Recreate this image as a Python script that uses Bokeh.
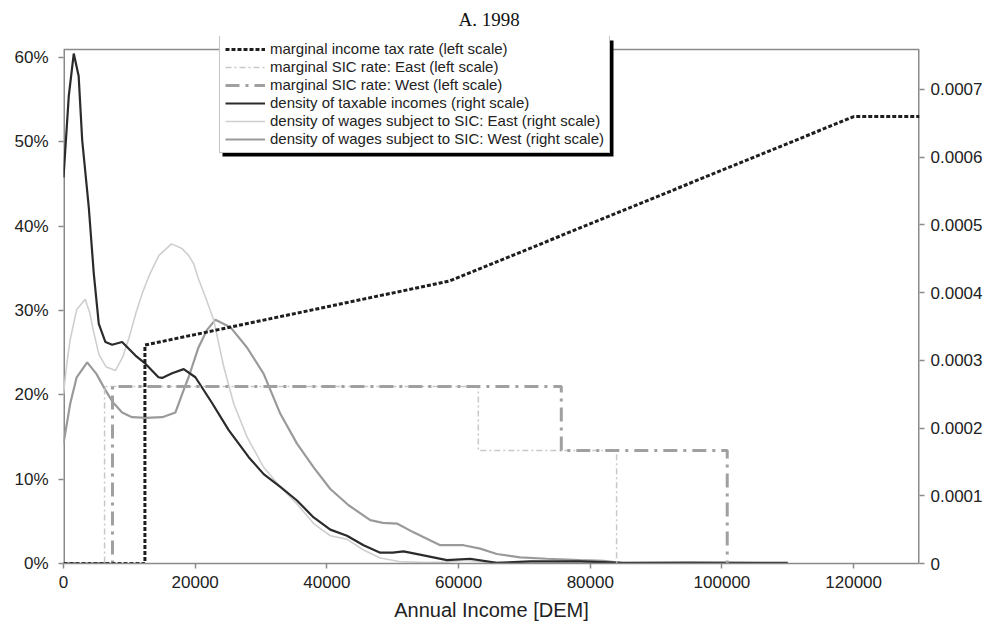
import numpy as np
from bokeh.plotting import figure
from bokeh.models import (Range1d, LinearAxis, FixedTicker, NumeralTickFormatter,
                          CustomJSTickFormatter, Legend, LegendItem, BoxAnnotation)
from bokeh.embed import file_html
from bokeh.resources import INLINE

FONT = "Liberation Sans"

title_text = "A.  1998"
x_label = "Annual Income [DEM]"
x_ticks = [0, 20000, 40000, 60000, 80000, 100000, 120000]
left_ticks = [0, 0.1, 0.2, 0.3, 0.4, 0.5, 0.6]
right_ticks = [0, 0.0001, 0.0002, 0.0003, 0.0004, 0.0005, 0.0006, 0.0007]

# marginal income tax rate (left scale)
tax_x = [0, 12365, 12365, 58643, 120041, 130000]
tax_y = [0, 0, 0.259, 0.335, 0.53, 0.53]

# marginal SIC rates (left scale)
sic_east_x = [0, 6240, 6240, 63000, 63000, 84000, 84000]
sic_east_y = [0, 0, 0.21, 0.21, 0.134, 0.134, 0]
sic_west_x = [0, 7440, 7440, 75600, 75600, 100800, 100800]
sic_west_y = [0, 0, 0.21, 0.21, 0.134, 0.134, 0]

# densities (right scale), values in units of 1e-4
dens_tax_x = [0, 800, 1560, 2300, 2840, 3840, 4600, 5360, 6370, 7390, 8900, 10930,
              12440, 14420, 14970, 16490, 18260, 20030, 22560, 25090, 28130, 30400,
              32930, 35460, 37990, 40520, 43050, 45570, 48100, 50000, 51640, 54680,
              58220, 61760, 65810, 70870, 78450, 85000, 95000, 110000]
dens_tax_v = [5.70, 6.9, 7.53, 7.2, 6.25, 5.26, 4.28, 3.54, 3.27, 3.23, 3.27, 3.07,
              2.95, 2.75, 2.74, 2.81, 2.87, 2.75, 2.37, 1.97, 1.57, 1.32,
              1.13, 0.93, 0.68, 0.50, 0.41, 0.27, 0.16, 0.16, 0.18, 0.12,
              0.05, 0.07, 0.01, 0.03, 0.03, 0.01, 0.015, 0.01]

dens_east_x = [0, 500, 1000, 2000, 3300, 4000, 4500, 5400, 6500, 7900, 9000, 10000,
               11000, 12000, 13000, 14500, 16400, 18000, 19000, 19800, 20500, 21500,
               22800, 24300, 25850, 27870, 30400, 32930, 35460, 37990, 40520, 43000,
               45570, 48100, 51000, 55000, 58000, 61000, 64000, 70000, 78000, 85000]
dens_east_v = [2.5, 2.95, 3.3, 3.75, 3.9, 3.7, 3.45, 3.08, 2.9, 2.85, 3.05, 3.35,
               3.7, 4.0, 4.25, 4.55, 4.72, 4.65, 4.55, 4.42, 4.2, 3.95,
               3.6, 2.92, 2.36, 1.87, 1.42, 1.13, 0.88, 0.59, 0.41, 0.36,
               0.2, 0.08, 0.03, 0.015, 0.02, 0.05, 0.02, 0.01, 0.01, 0.0]

dens_west_x = [0, 1000, 2000, 3600, 5000, 6370, 7500, 8900, 10400, 12500, 15000, 17000,
               18200, 19000, 20500, 21800, 23070, 25340, 27870, 30400, 32930, 35460,
               37990, 40520, 43300, 46590, 48500, 50640, 53160, 57210, 60750, 63280,
               65810, 69350, 73400, 78450, 82000, 85600]
dens_west_v = [1.77, 2.35, 2.75, 2.97, 2.8, 2.56, 2.38, 2.23, 2.16, 2.15, 2.16, 2.23,
               2.55, 2.75, 3.19, 3.45, 3.6, 3.49, 3.19, 2.8, 2.21, 1.77,
               1.42, 1.1, 0.86, 0.64, 0.6, 0.59, 0.46, 0.27, 0.27, 0.22,
               0.14, 0.09, 0.07, 0.05, 0.04, 0.0]

legend_labels = [
    "marginal income tax rate (left scale)",
    "marginal SIC rate: East (left scale)",
    "marginal SIC rate: West (left scale)",
    "density of taxable incomes (right scale)",
    "density of wages subject to SIC: East (right scale)",
    "density of wages subject to SIC: West (right scale)",
]

unit = 1e-4
dens_tax_y = list(np.array(dens_tax_v) * unit)
dens_east_y = list(np.array(dens_east_v) * unit)
dens_west_y = list(np.array(dens_west_v) * unit)

# plot box (data) tops; the frame extends a little higher so the legend fits
X_MAX = 130000
LEFT_TOP = 0.6095
RIGHT_TOP = 0.000759
EXTRA = 527.0 / 514.0

p = figure(width=985, height=630, output_backend="svg", toolbar_location=None,
           x_range=Range1d(0, X_MAX), y_range=Range1d(0, LEFT_TOP * EXTRA),
           min_border_left=63, min_border_right=66, min_border_top=36,
           min_border_bottom=67)
p.extra_y_ranges = {"dens": Range1d(0, RIGHT_TOP * EXTRA)}

p.title.text = title_text
p.title.align = "center"
p.title.text_font = "Liberation Serif"
p.title.text_font_size = "19px"
p.title.text_font_style = "normal"
p.title.text_color = "#111111"
p.title.standoff = 13

p.xgrid.visible = False
p.ygrid.visible = False
p.outline_line_color = None
p.background_fill_color = "white"
p.border_fill_color = "white"

AX = "#8a8a8a"
def style_axis(ax):
    ax.axis_line_color = None
    ax.major_tick_line_color = AX
    ax.major_tick_line_width = 1.5
    ax.major_tick_out = 5
    ax.major_tick_in = 0
    ax.minor_tick_line_color = None
    ax.major_label_text_font = FONT
    ax.major_label_text_font_size = "17px"
    ax.major_label_text_color = "#222222"

xa = p.xaxis[0]
style_axis(xa)
xa.axis_line_color = AX
xa.axis_line_width = 1.5
xa.ticker = FixedTicker(ticks=x_ticks)
xa.formatter = NumeralTickFormatter(format="0")
xa.major_label_standoff = 7
xa.axis_label = x_label
xa.axis_label_text_font = FONT
xa.axis_label_text_font_size = "20px"
xa.axis_label_text_font_style = "normal"
xa.axis_label_text_color = "#222222"
xa.axis_label_standoff = 8

ya = p.yaxis[0]
style_axis(ya)
ya.ticker = FixedTicker(ticks=left_ticks)
ya.formatter = NumeralTickFormatter(format="0%")
ya.major_label_standoff = 10

ra = LinearAxis(y_range_name="dens")
style_axis(ra)
ra.ticker = FixedTicker(ticks=right_ticks)
ra.formatter = CustomJSTickFormatter(code="return tick == 0 ? '0' : tick.toFixed(4);")
ra.major_label_standoff = 6
p.add_layout(ra, "right")

# plot box outline (sides are half-clipped at the frame edge, hence width 3)
p.line([0, 0], [0, LEFT_TOP], line_color=AX, line_width=3)
p.line([X_MAX, X_MAX], [0, LEFT_TOP], line_color=AX, line_width=3)
p.line([0, X_MAX], [LEFT_TOP, LEFT_TOP], line_color=AX, line_width=1.5)

# densities
r_west_d = p.line(dens_west_x, dens_west_y, y_range_name="dens", line_color="#9a9a9a", line_width=2.2)
r_east_d = p.line(dens_east_x, dens_east_y, y_range_name="dens", line_color="#cfcfcf", line_width=1.6)
r_tax_d = p.line(dens_tax_x, dens_tax_y, y_range_name="dens", line_color="#2b2b2b", line_width=2.2)
# rates
r_east = p.line(sic_east_x, sic_east_y, line_color="#c8c8c8", line_width=1.5, line_dash="6 3 2 3")
r_west = p.line(sic_west_x, sic_west_y, line_color="#a0a0a0", line_width=3, line_dash="14 6 3 6")
r_tax = p.line(tax_x, tax_y, line_color="#1e1e1e", line_width=3, line_dash="4 2")

renderers = [r_tax, r_east, r_west, r_tax_d, r_east_d, r_west_d]
items = [LegendItem(label=l, renderers=[r]) for l, r in zip(legend_labels, renderers)]

# legend geometry (screen px, frame-relative)
LEG_X = 156
LEG_H = 117
LEG_W = 391
FRAME_H = 527
leg_bottom = FRAME_H - LEG_H

shadow = BoxAnnotation(left=LEG_X + 3, right=LEG_X + LEG_W + 3,
                       bottom=leg_bottom - 3, top=leg_bottom + LEG_H - 4,
                       left_units="screen", right_units="screen",
                       bottom_units="screen", top_units="screen",
                       fill_color="black", fill_alpha=1.0, line_color=None)
p.add_layout(shadow)

legend = Legend(items=items, location=(LEG_X, leg_bottom),
                label_text_font=FONT, label_text_font_size="15px",
                label_text_color="#222222",
                glyph_width=40, glyph_height=14, label_height=14,
                label_standoff=5, spacing=1, padding=5, margin=0,
                border_line_color="#8a8a8a", border_line_width=1,
                background_fill_color="white", background_fill_alpha=1.0)
p.add_layout(legend, "center")

open("out.html", "w").write(file_html(p, INLINE))
